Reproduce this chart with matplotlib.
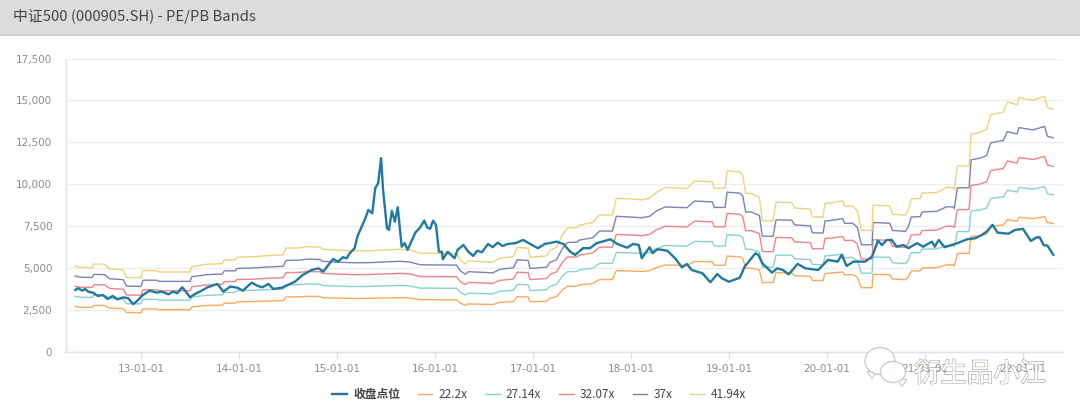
import matplotlib
matplotlib.use("Agg")
from matplotlib import pyplot as plt
from matplotlib.patches import Ellipse, Rectangle, Polygon
from matplotlib import patheffects as pe

W, H = 1080, 416

# x positions are fractional years
band_x = [2012.33, 2012.38, 2012.50, 2012.52, 2012.63, 2012.68, 2012.82, 2012.85, 2013.00, 2013.02,
          2013.16, 2013.19, 2013.50, 2013.52, 2013.67, 2013.83, 2013.85, 2013.96, 2013.98, 2014.14,
          2014.30, 2014.45, 2014.48, 2014.62, 2014.70, 2014.83, 2014.85, 2014.96, 2015.16, 2015.34,
          2015.64, 2015.74, 2015.85, 2016.22, 2016.26, 2016.31, 2016.34, 2016.59, 2016.66, 2016.80,
          2016.84, 2016.95, 2016.97, 2017.14, 2017.17, 2017.24, 2017.30, 2017.35, 2017.45, 2017.47,
          2017.61, 2017.68, 2017.81, 2017.85, 2017.99, 2018.11, 2018.19, 2018.26, 2018.35, 2018.57,
          2018.65, 2018.83, 2018.85, 2018.96, 2018.98, 2019.11, 2019.14, 2019.17, 2019.23, 2019.31,
          2019.34, 2019.45, 2019.48, 2019.64, 2019.67, 2019.83, 2019.85, 2019.96, 2019.98, 2020.06,
          2020.16, 2020.18, 2020.26, 2020.31, 2020.35, 2020.46, 2020.47, 2020.64, 2020.67, 2020.80,
          2020.83, 2020.86, 2020.95, 2020.97, 2021.12, 2021.22, 2021.29, 2021.30, 2021.33, 2021.45,
          2021.47, 2021.56, 2021.63, 2021.67, 2021.80, 2021.84, 2021.94, 2021.96, 2022.10, 2022.22,
          2022.25, 2022.31]

pe_222 = [2720, 2670, 2660, 2780, 2770, 2620, 2590, 2360, 2340, 2570,
          2570, 2520, 2520, 2690, 2770, 2790, 2910, 2910, 2990, 3010,
          3040, 3060, 3280, 3290, 3320, 3310, 3240, 3220, 3190, 3200,
          3240, 3220, 3120, 3110, 2910, 2780, 2870, 2830, 2960, 3010,
          3300, 3280, 2990, 3030, 3200, 3310, 3690, 3920, 3930, 4000,
          4090, 4320, 4320, 4850, 4830, 4800, 4850, 5040, 5190, 5160,
          5400, 5370, 5170, 5170, 5720, 5680, 5590, 5010, 5000,
          4890, 4140, 4140, 4730, 4720, 4550, 4510, 4270, 4260, 4680,
          4720, 4770, 4600, 4610, 4460, 3840, 3830, 4630, 4610, 4350,
          4310, 4480, 4830, 4840, 5010, 5030, 5200, 5190, 5130, 5880, 5880,
          6880, 6930, 7030, 7480, 7570, 7890, 7800, 8030, 7950, 8070,
          7720, 7660]
pe_2714 = [3320, 3270, 3250, 3400, 3380, 3200, 3160, 2880, 2870, 3140,
           3140, 3090, 3090, 3290, 3380, 3410, 3550, 3550, 3660, 3680,
           3720, 3750, 4010, 4020, 4060, 4040, 3970, 3940, 3900, 3910,
           3970, 3940, 3810, 3800, 3550, 3400, 3510, 3460, 3620, 3680,
           4030, 4010, 3660, 3710, 3910, 4040, 4520, 4790, 4800, 4890,
           5000, 5290, 5290, 5930, 5910, 5870, 5930, 6170, 6350, 6310,
           6600, 6570, 6320, 6320, 6990, 6950, 6830, 6130, 6120,
           5970, 5070, 5060, 5780, 5770, 5560, 5510, 5220, 5200, 5730,
           5770, 5830, 5620, 5640, 5460, 4700, 4690, 5660, 5640, 5320,
           5270, 5480, 5910, 5920, 6130, 6150, 6350, 6340, 6280, 7180, 7180,
           8410, 8470, 8590, 9150, 9250, 9640, 9540, 9820, 9710, 9870,
           9430, 9370]
pe_3207 = [3920, 3860, 3850, 4010, 4000, 3790, 3740, 3400, 3390, 3710,
           3710, 3650, 3650, 3890, 4000, 4030, 4200, 4200, 4320, 4340,
           4400, 4430, 4730, 4750, 4800, 4780, 4690, 4660, 4610, 4620,
           4690, 4660, 4500, 4490, 4200, 4010, 4150, 4090, 4270, 4350,
           4760, 4730, 4320, 4380, 4620, 4780, 5340, 5660, 5670, 5780,
           5900, 6250, 6250, 7010, 6980, 6940, 7010, 7290, 7500, 7460,
           7800, 7760, 7470, 7470, 8260, 8210, 8080, 7240, 7230,
           7060, 5990, 5980, 6830, 6810, 6570, 6520, 6160, 6150, 6770,
           6810, 6890, 6650, 6660, 6450, 5550, 5540, 6690, 6660, 6290,
           6230, 6480, 6980, 7000, 7240, 7270, 7510, 7490, 7420, 8490, 8490,
           9930, 10010, 10160, 10810, 10940, 11390, 11270, 11600, 11480, 11660,
           11150, 11070]
pe_37 = [4530, 4460, 4440, 4630, 4610, 4370, 4310, 3930, 3910, 4280,
         4280, 4210, 4210, 4490, 4610, 4650, 4840, 4840, 4980, 5010,
         5070, 5110, 5460, 5480, 5540, 5510, 5410, 5370, 5320, 5330,
         5410, 5370, 5200, 5180, 4840, 4630, 4790, 4720, 4930, 5020,
         5500, 5460, 4980, 5060, 5330, 5510, 6160, 6530, 6550, 6670,
         6810, 7210, 7210, 8090, 8050, 8000, 8090, 8410, 8650, 8600,
         9000, 8950, 8620, 8620, 9530, 9470, 9320, 8350, 8340,
         8140, 6910, 6900, 7880, 7860, 7580, 7520, 7110, 7090, 7810,
         7860, 7950, 7670, 7680, 7440, 6400, 6390, 7720, 7680, 7250,
         7190, 7470, 8050, 8070, 8350, 8390, 8660, 8650, 8560, 9790, 9790,
         11460, 11550, 11720, 12470, 12620, 13140, 13000, 13380, 13240, 13450,
         12860, 12770]
pe_4194 = [5130, 5050, 5030, 5250, 5230, 4950, 4890, 4450, 4430, 4850,
           4850, 4770, 4770, 5090, 5230, 5270, 5490, 5490, 5650, 5680,
           5750, 5790, 6190, 6210, 6280, 6250, 6130, 6090, 6030, 6040,
           6130, 6090, 5890, 5870, 5490, 5250, 5430, 5350, 5590, 5690,
           6230, 6190, 5650, 5730, 6040, 6250, 6980, 7400, 7420, 7560,
           7720, 8170, 8170, 9170, 9130, 9070, 9170, 9530, 9810, 9750,
           10200, 10150, 9770, 9770, 10800, 10740, 10560, 9470, 9450,
           9230, 7830, 7820, 8930, 8910, 8590, 8520, 8060, 8040, 8850,
           8910, 9010, 8690, 8710, 8430, 7260, 7240, 8750, 8710, 8220,
           8150, 8470, 9130, 9150, 9470, 9510, 9820, 9800, 9700, 11100, 11100,
           12990, 13090, 13280, 14140, 14300, 14900, 14740, 15170, 15010, 15250,
           14580, 14480]

close_x = [2012.33, 2012.36, 2012.40, 2012.43, 2012.46, 2012.51, 2012.56, 2012.61, 2012.66, 2012.71,
           2012.76, 2012.82, 2012.87, 2012.92, 2012.97, 2013.02, 2013.09, 2013.16, 2013.21, 2013.28,
           2013.33, 2013.37, 2013.42, 2013.45, 2013.50, 2013.55, 2013.60, 2013.68, 2013.78, 2013.84,
           2013.91, 2013.98, 2014.04, 2014.13, 2014.19, 2014.24, 2014.30, 2014.35, 2014.44, 2014.50,
           2014.57, 2014.65, 2014.74, 2014.81, 2014.86, 2014.90, 2014.96, 2015.01, 2015.06, 2015.10,
           2015.13, 2015.18, 2015.21, 2015.26, 2015.29, 2015.32, 2015.36, 2015.39, 2015.42, 2015.45,
           2015.47, 2015.51, 2015.53, 2015.56, 2015.59, 2015.62, 2015.66, 2015.69, 2015.72, 2015.80,
           2015.85, 2015.89, 2015.92, 2015.95, 2015.98, 2016.01, 2016.04, 2016.07, 2016.08, 2016.13,
           2016.20, 2016.23, 2016.29, 2016.34, 2016.39, 2016.43, 2016.48, 2016.54, 2016.59, 2016.64,
           2016.69, 2016.74, 2016.82, 2016.90, 2016.99, 2017.05, 2017.12, 2017.24, 2017.31, 2017.38,
           2017.43, 2017.51, 2017.58, 2017.65, 2017.79, 2017.86, 2017.96, 2018.02, 2018.08, 2018.11,
           2018.19, 2018.22, 2018.27, 2018.37, 2018.45, 2018.52, 2018.57, 2018.62, 2018.73, 2018.81,
           2018.88, 2018.93, 2019.00, 2019.11, 2019.16, 2019.27, 2019.30, 2019.34, 2019.44, 2019.49,
           2019.55, 2019.61, 2019.70, 2019.78, 2019.91, 2020.01, 2020.11, 2020.15, 2020.20, 2020.27,
           2020.39, 2020.46, 2020.52, 2020.56, 2020.61, 2020.66, 2020.71, 2020.78, 2020.83, 2020.92,
           2020.98, 2021.07, 2021.10, 2021.14, 2021.20, 2021.33, 2021.43, 2021.51, 2021.58, 2021.63,
           2021.69, 2021.74, 2021.85, 2021.92, 2022.00, 2022.08, 2022.14, 2022.17, 2022.21, 2022.25,
           2022.31]
close = [3700, 3800, 3660, 3760, 3600, 3540, 3340, 3400, 3160, 3340,
         3140, 3260, 3200, 2850, 3100, 3400, 3660, 3540, 3600, 3440,
         3600, 3500, 3860, 3660, 3260, 3460, 3600, 3860, 4060, 3600,
         3900, 3840, 3660, 4140, 3940, 3860, 4060, 3760, 3840, 4000,
         4190, 4590, 4890, 4990, 4790, 5090, 5550, 5390, 5650, 5590,
         5890, 6190, 6920, 7580, 7980, 8470, 8270, 9770, 10060, 11560,
         9670, 7380, 7280, 8410, 7770, 8630, 6280, 6490, 6090, 7120,
         7440, 7830, 7440, 7340, 7830, 7580, 5980, 5980, 5530, 5980,
         5590, 6090, 6380, 5980, 5730, 6040, 5950, 6440, 6250, 6520,
         6320, 6440, 6490, 6680, 6380, 6190, 6440, 6580, 6440, 5980,
         5790, 6190, 6190, 6490, 6720, 6440, 6220, 6440, 6380, 5590,
         6250, 5890, 6130, 6040, 5590, 5050, 5250, 4890, 4690, 4160,
         4650, 4390, 4190, 4430, 5090, 5890, 5790, 5290, 4730, 4990,
         4890, 4630, 5250, 4990, 4890, 5490, 5390, 5790, 5130, 5390,
         5390, 5690, 6640, 6380, 6680, 6680, 6280, 6380, 6190, 6490,
         6280, 6580, 6280, 6680, 6250, 6490, 6720, 6780, 6980, 7180,
         7580, 7120, 7050, 7280, 7340, 6620, 6840, 6840, 6380, 6340,
         5790]

series_names = ["收盘点位", "22.2x", "27.14x", "32.07x", "37x", "41.94x"]
y_ticks = [0, 2500, 5000, 7500, 10000, 12500, 15000, 17500]
x_ticks = [2013, 2014, 2015, 2016, 2017, 2018, 2019, 2020, 2021, 2022]
x_labels = ["13-01-01", "14-01-01", "15-01-01", "16-01-01", "17-01-01",
            "18-01-01", "19-01-01", "20-01-01", "21-01-01", "22-01-01"]

cjk = ['Noto Sans CJK SC', 'DejaVu Sans']

fig = plt.figure(figsize=(W / 100, H / 100), dpi=100, facecolor="white")

# header strip
fig.add_artist(Rectangle((0, 1 - 34 / H), 1, 34 / H, transform=fig.transFigure,
                         facecolor="#dcdcdc", edgecolor="none"))
fig.add_artist(Rectangle((0, 1 - 35.5 / H), 1, 1.5 / H, transform=fig.transFigure,
                         facecolor="#cfcfcf", edgecolor="none"))
fig.text(13 / W, 1 - 16.5 / H, "中证500 (000905.SH) - PE/PB Bands", family=cjk,
         fontsize=10.7, color="#444444", va="center", ha="left")

ax = fig.add_axes([65.5 / W, 1 - 352 / H, 997.5 / W, 293.5 / H])
xpx = (2022.0 - 2013.0) / (1023 - 141)
ax.set_xlim(2013 + (65.5 - 141) * xpx, 2013 + (1063 - 141) * xpx)
ax.set_ylim(0, 17500)

for vals, name, color in zip([pe_222, pe_2714, pe_3207, pe_37, pe_4194], series_names[1:],
                             ["#fda85a", "#86d3cf", "#ee8486", "#7a83b3", "#efd27c"]):
    ax.plot(band_x, vals, color=color, lw=1.0, label=name, zorder=2)
ax.plot(close_x, close, color="#23789f", lw=1.7, label=series_names[0], zorder=3,
        solid_joinstyle="round")

ax.set_yticks(y_ticks)
ax.set_yticklabels([f"{v:,}" for v in y_ticks])
ax.set_xticks(x_ticks)
ax.set_xticklabels(x_labels)
ax.grid(axis="y", color="#eeeeee", lw=1)
ax.set_axisbelow(True)
for side in ("top", "right"):
    ax.spines[side].set_visible(False)
for side in ("left", "bottom"):
    ax.spines[side].set_color("#dbe3f2")
    ax.spines[side].set_linewidth(1)
ax.tick_params(axis="y", length=0, pad=9.5, labelsize=7.5, labelcolor="#8c8c8c")
ax.tick_params(axis="x", length=5, width=1, color="#dbe3f2", pad=4, labelsize=7.5, labelcolor="#8c8c8c")

handles, labels = ax.get_legend_handles_labels()
order = [5, 0, 1, 2, 3, 4]
leg = fig.legend([handles[i] for i in order], [labels[i] for i in order], ncol=6,
                 loc="center", bbox_to_anchor=(539 / W, 1 - 394.5 / H), frameon=False,
                 prop={"family": cjk, "size": 8.5}, handlelength=1.25, handletextpad=0.5,
                 columnspacing=1.5, labelcolor="#444444")
leg.get_texts()[0].set_fontweight("bold")

# watermark over the last tick labels
for cx, cy, w, h, tail in [(880, 361, 30, 27, 872), (893, 372, 25, 21, 902)]:
    fig.add_artist(Polygon([((tail - 5) / W, 1 - (cy + h / 2 - 3) / H),
                            ((tail + 5) / W, 1 - (cy + h / 2 - 3) / H),
                            (tail / W, 1 - (cy + h / 2 + 4) / H)],
                           transform=fig.transFigure, facecolor="white", edgecolor="#c8c8c8",
                           lw=0.8, zorder=5))
    fig.add_artist(Ellipse((cx / W, 1 - cy / H), w / W, h / H, transform=fig.transFigure,
                           facecolor="#ffffff", edgecolor="#c8c8c8", lw=1, alpha=0.9, zorder=5))
fig.text(980 / W, 1 - 374 / H, "衍生品小江", family=cjk, fontsize=19, color="white",
         ha="center", va="center", zorder=6, alpha=0.95,
         path_effects=[pe.withStroke(linewidth=1.0, foreground="#9a9a9a"), pe.Normal()])

fig.savefig("out.png", dpi=100, facecolor="white")
